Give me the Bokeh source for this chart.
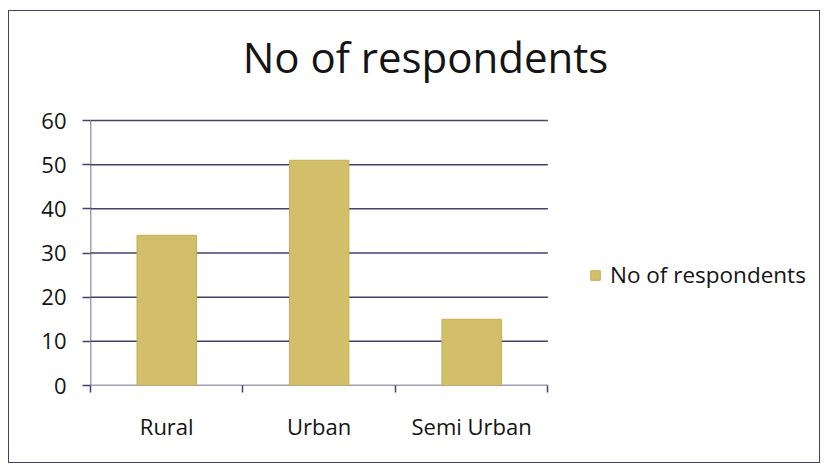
from bokeh.plotting import figure
from bokeh.models import (Range1d, FixedTicker, Legend, LegendItem, Label,
                          ColumnDataSource)
from bokeh.embed import file_html
from bokeh.resources import INLINE

categories = ["Rural", "Urban", "Semi Urban"]
respondents = [34, 51, 15]
y_ticks = [0, 10, 20, 30, 40, 50, 60]
series_name = "No of respondents"
chart_title = "No of respondents"

FONT = "Open Sans"
GRID = "#4b3d6e"
BAR = "#d3bf6a"
TXT = "#141414"

W, H = 812, 453
n = len(categories)
y_max = y_ticks[-1]
# the frame covers the whole chart area; the category/value area is the
# lower-left part, the rest is room for the title and the legend
x_end = n * (722 / 458)
y_end = y_max * (369 / 265)
p = figure(width=W, height=H, output_backend="svg", toolbar_location=None,
           x_range=Range1d(0, x_end), y_range=Range1d(0, y_end),
           min_border_left=81, min_border_right=10,
           min_border_top=5, min_border_bottom=79)
p.styles = {"margin-left": "8px", "margin-top": "10px",
            "border": f"1.5px solid {GRID}"}
p.outline_line_color = None
p.background_fill_color = "white"
p.border_fill_color = "white"

# horizontal gridlines limited to the category area
p.segment(x0=[0] * len(y_ticks), x1=[n] * len(y_ticks), y0=y_ticks, y1=y_ticks,
          line_color=GRID, line_width=1.5)
# value axis line
p.segment(x0=[0], x1=[0], y0=[0], y1=[y_max], line_color=GRID, line_width=1.5)

xs = [i + 0.5 for i in range(n)]
src = ColumnDataSource(dict(x=xs, top=respondents, cat=categories))
r = p.vbar(x="x", top="top", width=0.39, source=src,
           fill_color=BAR, line_color="#c4ae58", line_width=1)

# y axis
p.yaxis.ticker = FixedTicker(ticks=y_ticks)
p.yaxis.axis_line_color = None
p.yaxis.major_tick_line_color = GRID
p.yaxis.major_tick_line_width = 1.5
p.yaxis.major_tick_out = 8
p.yaxis.major_tick_in = 0
p.yaxis.minor_tick_line_color = None
p.yaxis.major_label_text_font = FONT
p.yaxis.major_label_text_font_size = "22px"
p.yaxis.major_label_text_color = TXT
p.yaxis.major_label_standoff = 16

# x axis (line drawn only across the category area)
p.xaxis.ticker = FixedTicker(ticks=xs, minor_ticks=list(range(n + 1)))
p.xaxis.major_label_overrides = {x: c for x, c in zip(xs, categories)}
p.xaxis.axis_line_color = None
p.xaxis.major_tick_line_color = None
p.xaxis.minor_tick_line_color = GRID
p.xaxis.minor_tick_line_width = 1.5
p.xaxis.minor_tick_out = 7
p.xaxis.minor_tick_in = 0
p.xaxis.major_label_text_font = FONT
p.xaxis.major_label_text_font_size = "22px"
p.xaxis.major_label_text_color = TXT
p.xaxis.major_label_standoff = 18

p.xgrid.grid_line_color = None
p.ygrid.grid_line_color = None

# title
p.add_layout(Label(x=335, y=329, x_units="screen", y_units="screen",
                   text=chart_title, text_font=FONT, text_font_size="42px",
                   text_color=TXT, text_align="center",
                   text_baseline="alphabetic"))

legend = Legend(items=[LegendItem(label=series_name, renderers=[r])],
                location=(499, 95), label_text_font=FONT,
                label_text_font_size="22.5px", label_text_color=TXT,
                glyph_width=12, glyph_height=12, label_standoff=9,
                border_line_color=None, background_fill_alpha=0,
                padding=0, margin=0)
p.add_layout(legend)

open("out.html", "w").write(file_html(p, INLINE))
